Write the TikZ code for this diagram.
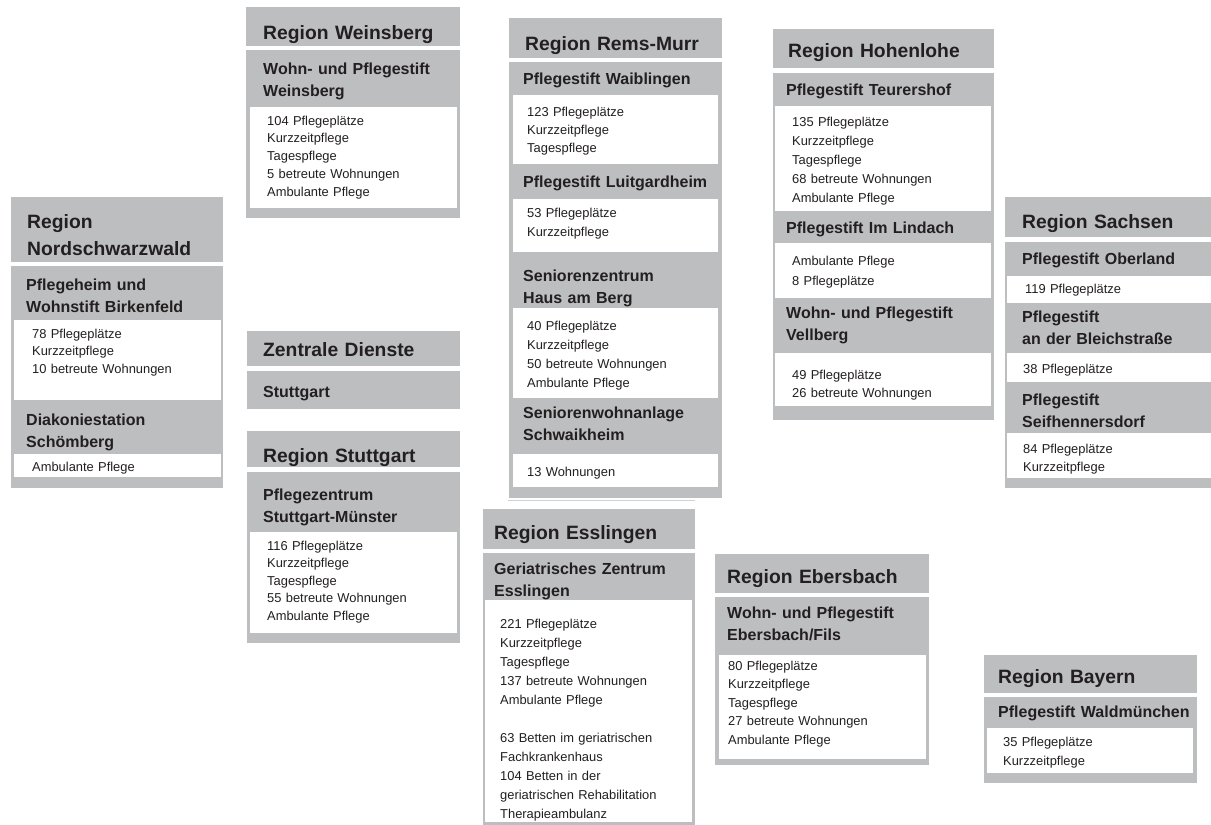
\documentclass[tikz,border=0pt]{standalone}
\usepackage{fontspec}
\setmainfont{Liberation Sans}
\definecolor{boxgray}{RGB}{188,190,192}
\definecolor{ink}{RGB}{35,31,32}
\tikzset{
  hd/.style={anchor=base west, inner sep=0pt, text width=210pt, align=left, text=ink,
    font=\fontsize{19.3}{27}\selectfont\bfseries},
  sub/.style={anchor=base west, inner sep=0pt, text width=210pt, align=left, text=ink,
    font=\fontsize{16}{22.5}\selectfont\bfseries},
  item/.style={anchor=base west, inner sep=0pt, text width=200pt, align=left, text=ink,
    font=\fontsize{12.9}{#1}\selectfont},
  item/.default=18
}
\begin{document}
\begin{tikzpicture}[x=1pt,y=-1pt]
\useasboundingbox (0,0) rectangle (1211,825);
% Nordschwarzwald
\fill[boxgray] (11,197) rectangle (223,262);
\fill[boxgray] (11,266) rectangle (223,488);
\fill[white] (14,320) rectangle (221,400);
\fill[white] (14,454) rectangle (221,477);
\node[hd] (nsw) at (27,228) {Region\\Nordschwarzwald};
\node[sub] (birk) at (26,290) {Pflegeheim und\\Wohnstift Birkenfeld};
\node[item=17.5] (birk-l) at (32,338) {78 Pflegeplätze\\Kurzzeitpflege\\10 betreute Wohnungen};
\node[sub] (diak) at (26,425) {Diakoniestation\\Schömberg};
\node[item] (diak-l) at (32,471) {Ambulante Pflege};
% Weinsberg
\fill[boxgray] (246,7) rectangle (460,46);
\fill[boxgray] (246,50) rectangle (460,218);
\fill[white] (250,107) rectangle (457,208);
\node[hd] (wb) at (263,39) {Region Weinsberg};
\node[sub] (wbst) at (263,74) {Wohn- und Pflegestift\\Weinsberg};
\node[item=17.8] (wbst-l) at (267,125) {104 Pflegeplätze\\Kurzzeitpflege\\Tagespflege\\5 betreute Wohnungen\\Ambulante Pflege};
% Zentrale Dienste
\fill[boxgray] (247,331) rectangle (460,366);
\fill[boxgray] (247,371) rectangle (460,409);
\node[hd] (zd) at (263,356) {Zentrale Dienste};
\node[sub] (zd-s) at (263,397) {Stuttgart};
% Stuttgart
\fill[boxgray] (247,431) rectangle (460,467);
\fill[boxgray] (247,472) rectangle (460,643);
\fill[white] (250,532) rectangle (457,633);
\node[hd] (st) at (263,462) {Region Stuttgart};
\node[sub] (stm) at (263,500) {Pflegezentrum\\Stuttgart-Münster};
\node[item=17.6] (stm-l) at (267,550) {116 Pflegeplätze\\Kurzzeitpflege\\Tagespflege\\55 betreute Wohnungen\\Ambulante Pflege};
% Rems-Murr
\fill[boxgray] (509,18) rectangle (722,58);
\fill[boxgray] (509,62) rectangle (722,498);
\fill[white] (513,95) rectangle (718,164);
\fill[white] (513,199) rectangle (718,252);
\fill[white] (513,308) rectangle (718,398);
\fill[white] (513,454) rectangle (718,487);
\draw[boxgray!70, line width=0.8pt] (508,500) -- (695,500);
\node[hd] (rm) at (525,50) {Region Rems-Murr};
\node[sub] (wai) at (523,84) {Pflegestift Waiblingen};
\node[item] (wai-l) at (527,116) {123 Pflegeplätze\\Kurzzeitpflege\\Tagespflege};
\node[sub] (lui) at (523,187) {Pflegestift Luitgardheim};
\node[item=19] (lui-l) at (527,217) {53 Pflegeplätze\\Kurzzeitpflege};
\node[sub] (hab) at (523,281) {Seniorenzentrum\\Haus am Berg};
\node[item=19] (hab-l) at (527,330) {40 Pflegeplätze\\Kurzzeitpflege\\50 betreute Wohnungen\\Ambulante Pflege};
\node[sub] (swk) at (523,418) {Seniorenwohnanlage\\Schwaikheim};
\node[item] (swk-l) at (527,476) {13 Wohnungen};
% Hohenlohe
\fill[boxgray] (773,29) rectangle (994,68);
\fill[boxgray] (773,73) rectangle (994,420);
\fill[white] (775,106) rectangle (991,211);
\fill[white] (775,243) rectangle (991,298);
\fill[white] (775,353) rectangle (991,406);
\node[hd] (hl) at (788,57) {Region Hohenlohe};
\node[sub] (teu) at (786,95) {Pflegestift Teurershof};
\node[item=19] (teu-l) at (792,126) {135 Pflegeplätze\\Kurzzeitpflege\\Tagespflege\\68 betreute Wohnungen\\Ambulante Pflege};
\node[sub] (lin) at (786,233) {Pflegestift Im Lindach};
\node[item=20] (lin-l) at (792,265) {Ambulante Pflege\\8 Pflegeplätze};
\node[sub] (vel) at (786,318) {Wohn- und Pflegestift\\Vellberg};
\node[item] (vel-l) at (792,379) {49 Pflegeplätze\\26 betreute Wohnungen};
% Sachsen
\fill[boxgray] (1005,197) rectangle (1211,237);
\fill[boxgray] (1005,242) rectangle (1211,488);
\fill[white] (1007,276) rectangle (1211,303);
\fill[white] (1007,353) rectangle (1211,382);
\fill[white] (1007,433) rectangle (1211,478);
\node[hd] (sx) at (1022,228) {Region Sachsen};
\node[sub] (obl) at (1022,264) {Pflegestift Oberland};
\node[item] (obl-l) at (1025,293) {119 Pflegeplätze};
\node[sub] (blc) at (1022,322) {Pflegestift\\an der Bleichstraße};
\node[item] (blc-l) at (1023,373) {38 Pflegeplätze};
\node[sub] (sfh) at (1022,405) {Pflegestift\\Seifhennersdorf};
\node[item] (sfh-l) at (1023,453) {84 Pflegeplätze\\Kurzzeitpflege};
% Esslingen
\fill[boxgray] (483,509) rectangle (695,549);
\fill[boxgray] (483,553) rectangle (695,825);
\fill[white] (485,600) rectangle (692,822);
\node[hd] (es) at (494,539) {Region Esslingen};
\node[sub] (gz) at (494,574) {Geriatrisches Zentrum\\Esslingen};
\node[item=19] (gz-l) at (500,628) {221 Pflegeplätze\\Kurzzeitpflege\\Tagespflege\\137 betreute Wohnungen\\Ambulante Pflege\\[19pt]63 Betten im geriatrischen\\Fachkrankenhaus\\104 Betten in der\\geriatrischen Rehabilitation\\Therapieambulanz};
% Ebersbach
\fill[boxgray] (715,554) rectangle (929,593);
\fill[boxgray] (715,597) rectangle (929,765);
\fill[white] (719,655) rectangle (926,759);
\node[hd] (eb) at (727,583) {Region Ebersbach};
\node[sub] (ebf) at (727,618) {Wohn- und Pflegestift\\Ebersbach/Fils};
\node[item=18.5] (ebf-l) at (728,670) {80 Pflegeplätze\\Kurzzeitpflege\\Tagespflege\\27 betreute Wohnungen\\Ambulante Pflege};
% Bayern
\fill[boxgray] (984,655) rectangle (1197,693);
\fill[boxgray] (984,697) rectangle (1197,783);
\fill[white] (987,728) rectangle (1193,773);
\node[hd] (by) at (998,683) {Region Bayern};
\node[sub] (wm) at (998,717) {Pflegestift Waldmünchen};
\node[item=19] (wm-l) at (1003,746) {35 Pflegeplätze\\Kurzzeitpflege};
\end{tikzpicture}
\end{document}
